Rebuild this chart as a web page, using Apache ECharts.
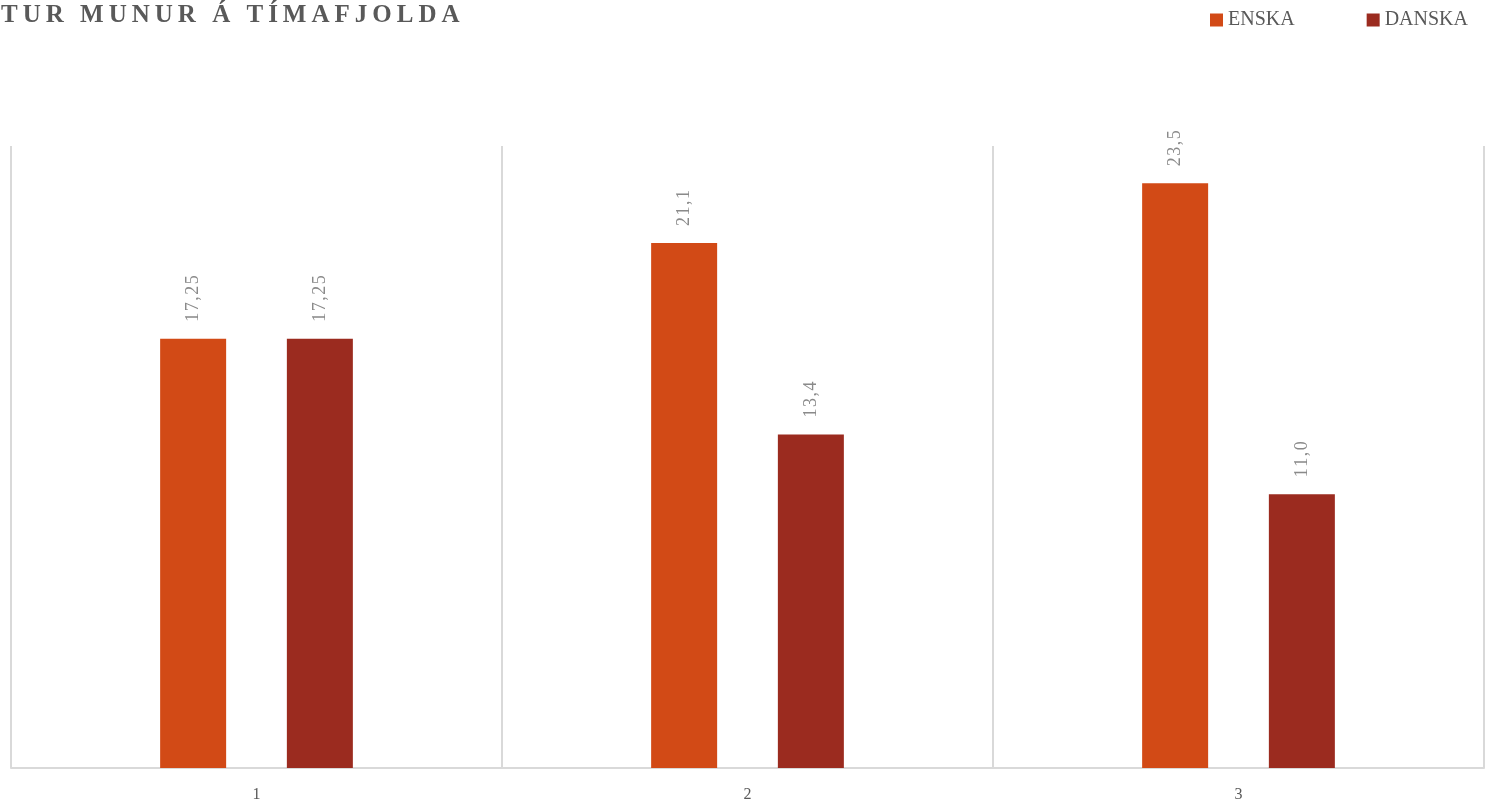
<!DOCTYPE html>
<html>
<head>
<meta charset="utf-8">
<script src="https://cdn.jsdelivr.net/npm/echarts@6/dist/echarts.min.js"></script>
<style>
html,body{margin:0;padding:0;background:#fff;}
#chart{width:1487px;height:803px;}
</style>
</head>
<body>
<div id="chart"></div>
<script>
const titleText = 'TUR MUNUR Á TÍMAFJOLDA';
const categories = ['1', '2', '3'];
const seriesNames = ['ENSKA', 'DANSKA'];
const enska = [17.25, 21.1, 23.5];
const danska = [17.25, 13.4, 11.0];
const labelTexts = {
  ENSKA: ['17,25', '21,1', '23,5'],
  DANSKA: ['17,25', '13,4', '11,0']
};
const colors = ['#D24A16', '#9B2B1F'];

const serif = '"Liberation Serif", "DejaVu Serif", serif';
function spaced(s, sep) { return s.split('').join(sep); }

const chart = echarts.init(document.getElementById('chart'));
function makeSeries(name, data, color) {
  return {
    name: name,
    type: 'bar',
    data: data,
    barWidth: 66,
    barGap: '92%',
    itemStyle: { color: color },
    label: {
      show: true,
      position: 'top',
      rotate: 90,
      align: 'left',
      verticalAlign: 'middle',
      distance: 17,
      color: '#8a8a8a',
      fontFamily: serif,
      fontSize: 18,
      formatter: p => spaced(labelTexts[name][p.dataIndex], '\u200A')
    }
  };
}
chart.setOption({
  animation: false,
  title: {
    text: spaced(titleText, '\u2009'),
    left: -4,
    top: -2,
    textStyle: { color: '#595959', fontFamily: serif, fontWeight: 'bold', fontSize: 25 }
  },
  legend: {
    data: seriesNames,
    right: 14,
    top: 5,
    icon: 'rect',
    itemWidth: 13,
    itemHeight: 13,
    itemGap: 72,
    textStyle: { color: '#595959', fontFamily: serif, fontSize: 20 }
  },
  grid: { left: 11, right: 3, top: 146, bottom: 30, containLabel: false },
  xAxis: {
    type: 'category',
    data: categories,
    axisLine: { lineStyle: { color: '#d9d9d9', width: 2 } },
    axisTick: { show: false },
    splitLine: { show: true, lineStyle: { color: '#d9d9d9', width: 2 } },
    axisLabel: { color: '#595959', fontFamily: serif, fontSize: 16, margin: 19 }
  },
  yAxis: {
    type: 'value',
    min: 0,
    max: 25,
    show: false,
    splitLine: { show: false }
  },
  series: [makeSeries('ENSKA', enska, colors[0]), makeSeries('DANSKA', danska, colors[1])]
});
</script>
</body>
</html>
